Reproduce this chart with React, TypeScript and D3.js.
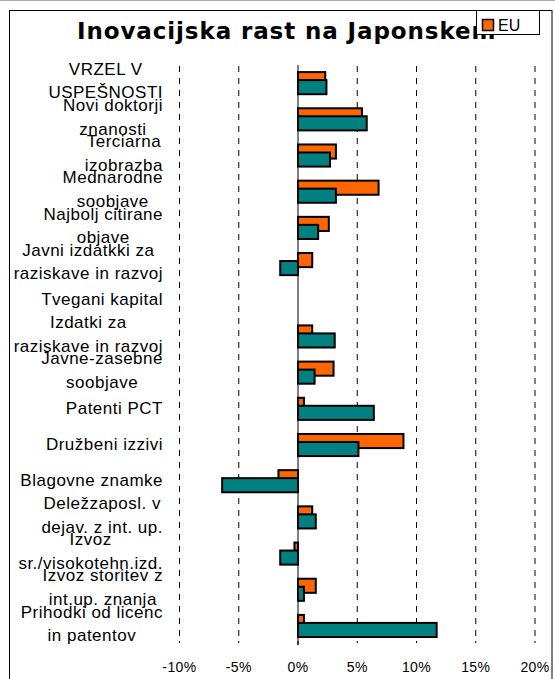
import React from "react";
import * as d3 from "d3";

const categories: string[][] = [
  ["VRZEL V", "USPEŠNOSTI"],
  ["Novi doktorji", "znanosti"],
  ["Terciarna", "izobrazba"],
  ["Mednarodne", "soobjave"],
  ["Najbolj citirane", "objave"],
  ["Javni izdatkki za", "raziskave in razvoj"],
  ["Tvegani kapital"],
  ["Izdatki za", "raziskave in razvoj"],
  ["Javne-zasebne", "soobjave"],
  ["Patenti PCT"],
  ["Družbeni izzivi"],
  ["Blagovne znamke"],
  ["Deležzaposl. v", "dejav. z int. up."],
  ["Izvoz", "sr./visokotehn.izd."],
  ["Izvoz storitev z", "int.up. znanja"],
  ["Prihodki od licenc", "in patentov"],
];

const euValues: (number | null)[] = [2.3, 5.4, 3.2, 6.8, 2.6, 1.2, null, 1.2, 3.0, 0.5, 8.9, -1.65, 1.2, -0.3, 1.5, 0.5];
const japanValues: (number | null)[] = [2.4, 5.8, 2.7, 3.2, 1.7, -1.5, null, 3.1, 1.4, 6.4, 5.1, -6.4, 1.5, -1.5, 0.5, 11.7];

const xTicks: number[] = [-10, -5, 0, 5, 10, 15, 20];
const title = "Inovacijska rast na Japonskem";
const legendLabel = "EU";

const EU_COLOR = "#FF6600";
const JP_COLOR = "#008080";

const LABEL_FONT = "17px 'Liberation Sans'";
const LABEL_LS = 0.5;

let ctx: CanvasRenderingContext2D | null = null;
function measure(text: string): number {
  if (!ctx) {
    const c = document.createElement("canvas");
    ctx = c.getContext("2d");
  }
  if (!ctx) return text.length * 8;
  ctx.font = LABEL_FONT;
  return ctx.measureText(text).width + LABEL_LS * text.length;
}

export default function App() {
  const W = 555;
  const H = 679;
  const x = d3.scaleLinear().domain([-10, 20]).range([179.5, 535]);
  const keys = categories.map((_, i) => String(i));
  const y = d3.scaleBand<string>().domain(keys).range([65, 644]).padding(0);
  const bw = y.bandwidth();
  const barH = bw * 0.39;
  const plotTop = 66;
  const plotBottom = 642;
  const labelRight = 163;
  const lineGap = 23.5;

  return (
    <svg
      width={W}
      height={H}
      style={{ position: "absolute", left: 0, top: 0, background: "#fff" }}
    >
      <rect x={0} y={0} width={W} height={H} fill="#fff" />
      <line x1={0} x2={W} y1={0.5} y2={0.5} stroke="#aaa" />
      <rect x={9.5} y={10.5} width={542.5} height={720} fill="none" stroke="#000" strokeWidth={1} />

      {/* title */}
      <text
        x={77}
        y={38.5}
        fontFamily="'DejaVu Sans', Verdana, sans-serif"
        fontWeight="bold"
        fontSize={23}
        letterSpacing={0.9}
        fill="#000"
      >
        {title}
      </text>

      {/* gridlines */}
      {xTicks.filter((t) => t !== 0).map((t) => (
        <line
          key={"g" + t}
          x1={x(t)}
          x2={x(t)}
          y1={plotTop}
          y2={plotBottom}
          stroke="#000"
          strokeWidth={1}
          strokeDasharray="6,6"
        />
      ))}
      {xTicks.map((t) => (
        <line key={"tk" + t} x1={x(t)} x2={x(t)} y1={plotBottom - 1} y2={plotBottom + (t === 0 ? 3 : 1)} stroke="#000" strokeWidth={1} />
      ))}

      {/* bars */}
      {categories.map((_, i) => {
        const c = (y(String(i)) as number) + bw / 2;
        const v = euValues[i];
        if (v === null) return null;
        const x0 = x(Math.min(0, v));
        const x1 = x(Math.max(0, v));
        return (
          <rect key={"eu" + i} x={x0} y={c - 11} width={x1 - x0} height={barH} fill={EU_COLOR} stroke="#000" strokeWidth={2} />
        );
      })}
      {categories.map((_, i) => {
        const c = (y(String(i)) as number) + bw / 2;
        const v = japanValues[i];
        if (v === null) return null;
        const x0 = x(Math.min(0, v));
        const x1 = x(Math.max(0, v));
        return (
          <rect key={"jp" + i} x={x0} y={c - 3} width={x1 - x0} height={barH} fill={JP_COLOR} stroke="#000" strokeWidth={2} />
        );
      })}

      {/* zero line */}
      <line x1={x(0)} x2={x(0)} y1={65} y2={plotBottom + 3} stroke="#000" strokeWidth={1} />

      {/* category labels */}
      {categories.map((lines, i) => {
        const c = (y(String(i)) as number) + bw / 2;
        const widths = lines.map(measure);
        const maxW = Math.max(...widths);
        const mid = labelRight - maxW / 2;
        const n = lines.length;
        return lines.map((ln, j) => {
          const base = c + 5 + (j - (n - 1) / 2) * lineGap;
          return (
            <text
              key={"l" + i + "_" + j}
              x={mid}
              y={n === 1 ? c + 5 : base - 1.5}
              textAnchor="middle"
              fontFamily="'Liberation Sans', Arial, sans-serif"
              fontSize={17}
              letterSpacing={LABEL_LS}
              fill="#000"
            >
              {ln}
            </text>
          );
        });
      })}

      {/* tick labels */}
      {xTicks.map((t) => (
        <text
          key={"tl" + t}
          x={x(t)}
          y={672}
          textAnchor="middle"
          fontFamily="'Liberation Sans', Arial, sans-serif"
          fontSize={14}
          letterSpacing={0.4}
          fill="#000"
        >
          {t + "%"}
        </text>
      ))}

      {/* legend */}
      <rect x={476.5} y={10.5} width={63} height={24} fill="#fff" stroke="#000" strokeWidth={1} />
      <rect x={482.5} y={19.5} width={11} height={11} fill={EU_COLOR} stroke="#000" strokeWidth={1.5} />
      <text x={498} y={31} fontFamily="'Liberation Sans', Arial, sans-serif" fontSize={16} fill="#000">
        {legendLabel}
      </text>
    </svg>
  );
}
